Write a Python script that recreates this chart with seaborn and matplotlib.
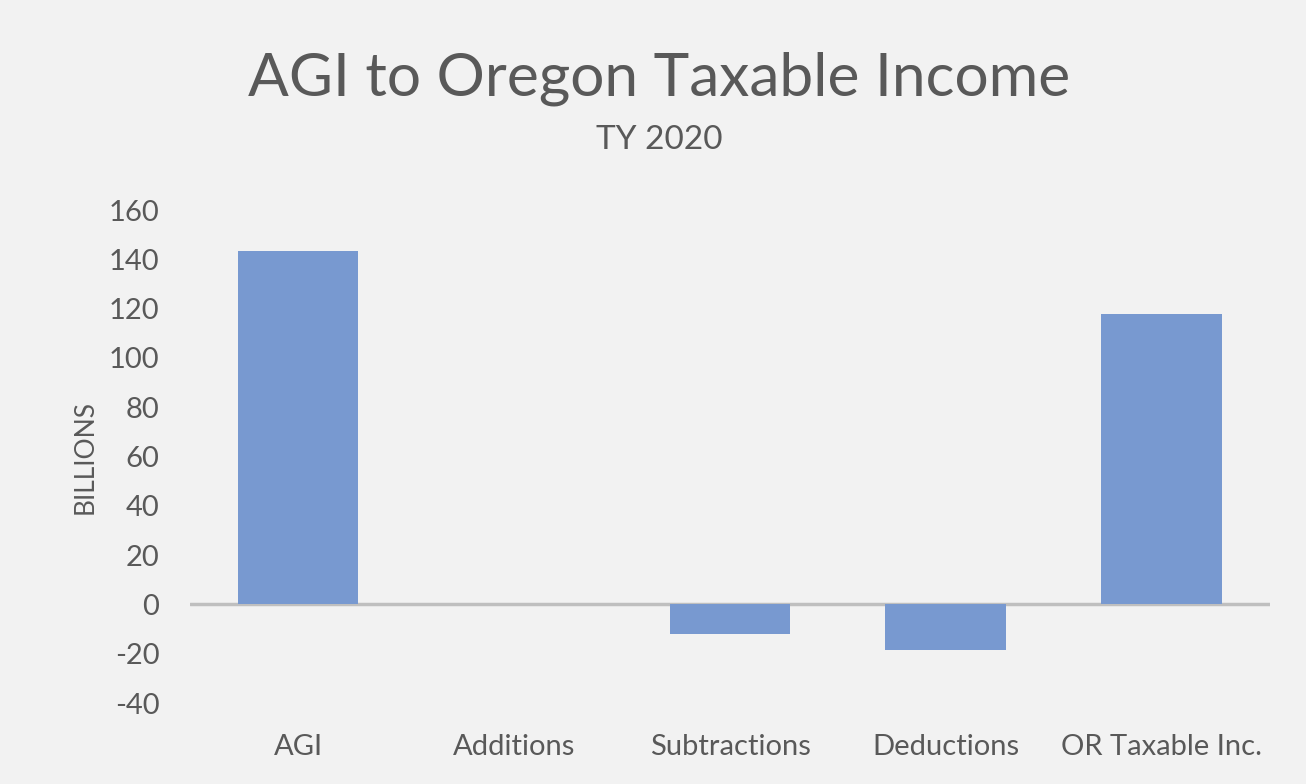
import matplotlib
matplotlib.use('Agg')
import matplotlib.pyplot as plt
import seaborn as sns
import pandas as pd

categories = ['AGI', 'Additions', 'Subtractions', 'Deductions', 'OR Taxable Inc.']
billions = [143.2, 0.0, -11.9, -18.3, 118.0]
y_ticks = [-40, -20, 0, 20, 40, 60, 80, 100, 120, 140, 160]

df = pd.DataFrame({'category': categories, 'value': billions})

bg = '#F2F2F2'
txt = '#595959'

sns.set_theme(style='white')
plt.rcParams['font.family'] = ['Lato', 'DejaVu Sans']
plt.rcParams['axes.unicode_minus'] = False

fig = plt.figure(figsize=(13.06, 7.84), dpi=100, facecolor=bg)
ax = fig.add_axes([0.1455, 0.1033, 0.8269, 0.6288])
ax.set_facecolor(bg)

sns.barplot(data=df, x='category', y='value', color='#7899D0', saturation=1,
            width=0.56, linewidth=0, ax=ax)

ax.axhline(0, color='#BFBFBF', linewidth=2.5, zorder=0.5)
ax.set_xlim(-0.5, len(categories) - 0.5)
ax.set_ylim(-40, 160)
ax.set_yticks(y_ticks)
ax.tick_params(axis='both', length=0, labelsize=21, colors=txt)
ax.tick_params(axis='x', pad=22)
ax.tick_params(axis='y', pad=22)
ax.set_xlabel('')
ax.set_ylabel('BILLIONS', fontsize=19, color=txt, labelpad=8)
for s in ax.spines.values():
    s.set_visible(False)

fig.text(0.505, 0.9, 'AGI to Oregon Taxable Income', ha='center', va='center',
         fontsize=43.5, color=txt)
fig.text(0.505, 0.821, 'TY 2020', ha='center', va='center', fontsize=24, color=txt)

fig.savefig('out.png', dpi=100, facecolor=bg)
